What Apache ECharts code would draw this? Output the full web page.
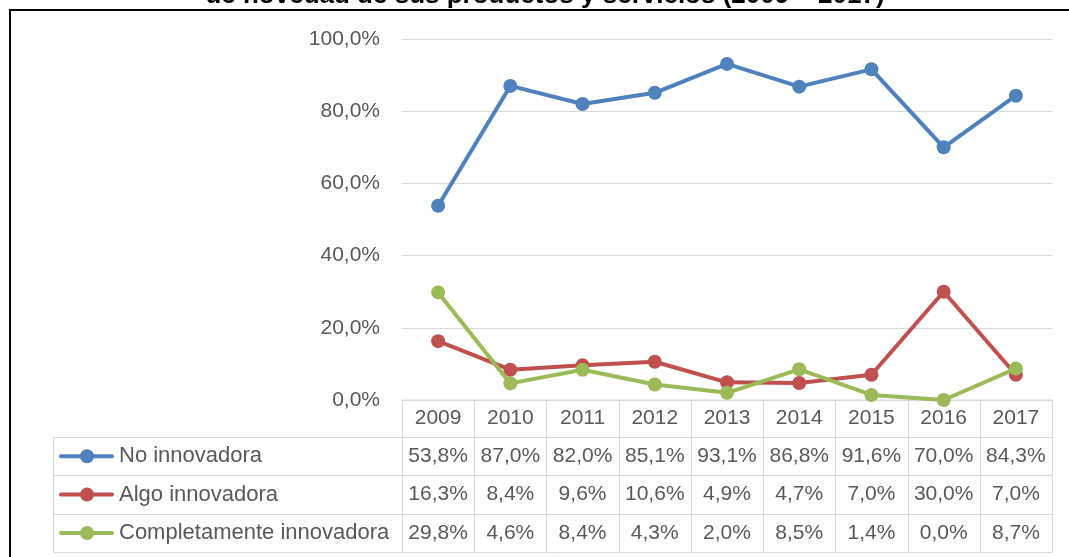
<!DOCTYPE html>
<html>
<head>
<meta charset="utf-8">
<script src="https://cdn.jsdelivr.net/npm/echarts@6/dist/echarts.min.js"></script>
<style>
  html, body { margin: 0; padding: 0; background: #fff; }
  #chart { width: 1069px; height: 557px; }
</style>
</head>
<body>
<div id="chart"></div>
<script>
// Innovation level of firms' products and services, 2009–2017 (share of firms)
const titleLine = 'de novedad de sus productos y servicios (2009 – 2017)';
const years = ['2009', '2010', '2011', '2012', '2013', '2014', '2015', '2016', '2017'];
const seriesNames = ['No innovadora', 'Algo innovadora', 'Completamente innovadora'];
const noInnovadora = [53.8, 87.0, 82.0, 85.1, 93.1, 86.8, 91.6, 70.0, 84.3];
const algoInnovadora = [16.3, 8.4, 9.6, 10.6, 4.9, 4.7, 7.0, 30.0, 7.0];
const completamenteInnovadora = [29.8, 4.6, 8.4, 4.3, 2.0, 8.5, 1.4, 0.0, 8.7];
const yTicks = [0, 20, 40, 60, 80, 100];
const colors = ['#4f81bd', '#c0504d', '#9bbb59'];

const seriesValues = [noInnovadora, algoInnovadora, completamenteInnovadora];
const fmtPct = v => v.toFixed(1).replace('.', ',') + '%';

const FONT = '"Liberation Sans", Arial, sans-serif';
const TEXT = '#595959';
const LINE = '#d9d9d9';

const chart = echarts.init(document.getElementById('chart'), null, { renderer: 'canvas' });

const option = {
  animation: false,
  backgroundColor: '#fff',
  grid: { left: 402, right: 17, top: 39, bottom: 157, containLabel: false },
  xAxis: {
    type: 'category',
    data: years,
    boundaryGap: true,
    axisLine: { show: false },
    axisTick: { show: false },
    axisLabel: { color: TEXT, fontSize: 21, fontFamily: FONT, margin: 8 }
  },
  yAxis: {
    type: 'value',
    min: yTicks[0],
    max: yTicks[yTicks.length - 1],
    interval: 20,
    axisLine: { show: false },
    axisTick: { show: false },
    splitLine: { lineStyle: { color: LINE, width: 1 } },
    axisLabel: { color: TEXT, fontSize: 21, fontFamily: FONT, margin: 22, formatter: v => fmtPct(v) }
  },
  series: seriesNames.map((name, i) => ({
    name,
    type: 'line',
    data: seriesValues[i],
    symbol: 'circle',
    symbolSize: 14,
    showSymbol: true,
    lineStyle: { color: colors[i], width: 4 },
    itemStyle: { color: colors[i] },
    z: 2 + i
  }))
};
chart.setOption(option);

// Data table under the plot: years header row, then one row per series.
function buildTable() {
  const centers = years.map((_, i) => chart.convertToPixel({ xAxisIndex: 0 }, i));
  const step = centers[1] - centers[0];
  const tableLeft = centers[0] - step / 2;
  const tableRight = centers[centers.length - 1] + step / 2;
  const legendLeft = 53;
  const top = chart.convertToPixel({ yAxisIndex: 0 }, 0);
  const headerH = 37;
  const rowH = 38.4;
  const rowsTop = top + headerH;
  const bottom = rowsTop + rowH * seriesNames.length;
  const g = [];
  const lineStyle = { stroke: LINE, lineWidth: 1 };

  // horizontal rules
  g.push({ type: 'line', shape: { x1: tableLeft, y1: top, x2: tableRight, y2: top }, style: lineStyle });
  for (let r = 0; r <= seriesNames.length; r++) {
    const y = Math.round(rowsTop + r * rowH) + 0.5;
    g.push({ type: 'line', shape: { x1: legendLeft, y1: y, x2: tableRight, y2: y }, style: lineStyle });
  }
  // vertical rules
  g.push({ type: 'line', shape: { x1: legendLeft + 0.5, y1: rowsTop, x2: legendLeft + 0.5, y2: bottom }, style: lineStyle });
  for (let c = 0; c <= years.length; c++) {
    const x = Math.round(tableLeft + c * step) + 0.5;
    g.push({ type: 'line', shape: { x1: x, y1: top, x2: x, y2: bottom }, style: lineStyle });
  }
  // rows: legend key + values
  seriesNames.forEach((name, r) => {
    const cy = rowsTop + r * rowH + rowH / 2;
    g.push({ type: 'line', shape: { x1: 61, y1: cy, x2: 112, y2: cy },
             style: { stroke: colors[r], lineWidth: 4, lineCap: 'round' } });
    g.push({ type: 'circle', shape: { cx: 87, cy, r: 7 }, style: { fill: colors[r] } });
    g.push({ type: 'text', x: 119, y: cy,
             style: { text: name, fill: TEXT, font: '22px ' + FONT, textAlign: 'left', textVerticalAlign: 'middle' } });
    seriesValues[r].forEach((v, c) => {
      g.push({ type: 'text', x: centers[c], y: cy,
               style: { text: fmtPct(v), fill: TEXT, font: '21px ' + FONT, textAlign: 'center', textVerticalAlign: 'middle' } });
    });
  });

  // outer frame and title line
  g.push({ type: 'rect', shape: { x: 10, y: 10, width: 1100, height: 600 },
           style: { fill: null, stroke: '#000', lineWidth: 2 } });
  g.push({ type: 'text', x: 545, y: -4,
           style: { text: titleLine, fill: '#000', font: 'bold 26px ' + FONT, textAlign: 'center', textVerticalAlign: 'middle' } });

  chart.setOption({ graphic: g });
}
buildTable();
</script>
</body>
</html>
